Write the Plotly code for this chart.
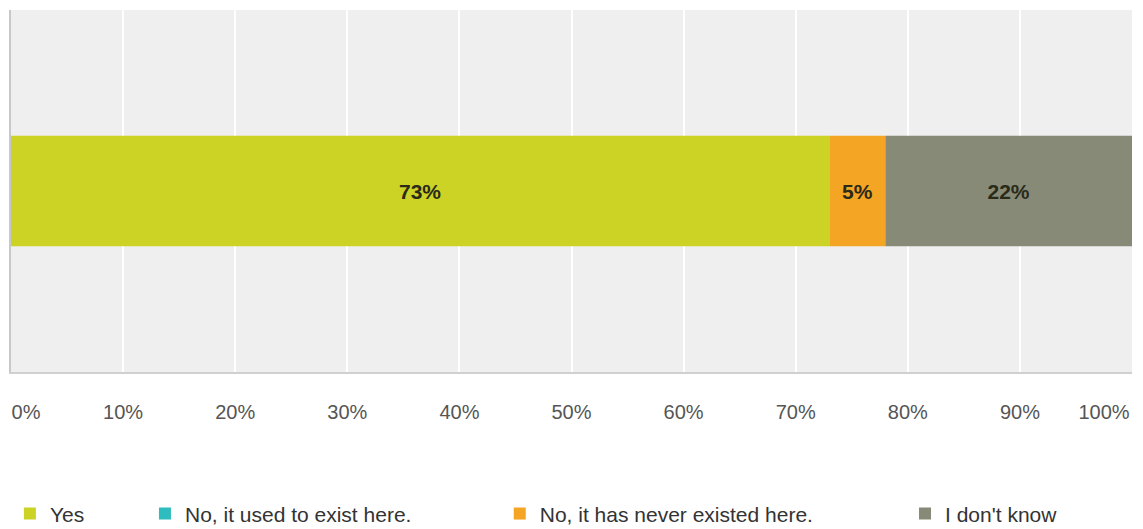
import plotly.graph_objects as go

categories = ["Q"]
series_names = ["Yes", "No, it used to exist here.", "No, it has never existed here.", "I don't know"]
series_values = [73, 0, 5, 22]
series_colors = ["#ccd325", "#2fbcbf", "#f5a524", "#878a77"]
tick_vals = [0, 10, 20, 30, 40, 50, 60, 70, 80, 90, 100]
tick_text = ["", "10%", "20%", "30%", "40%", "50%", "60%", "70%", "80%", "90%", ""]
first_tick = [0]
first_text = ["0%"]
last_tick = [100]
last_text = ["100%"]
legend_ids = ["legend", "legend2", "legend3", "legend4"]
legend_x = [-0.001, 0.1195, 0.436, 0.7975]
# x axis each series is drawn on (the extra axes only carry the end tick labels)
series_axes = ["x", "x2", "x", "x3"]

fig = go.Figure()
cum = 0
for name, val, col, lg, ax in zip(series_names, series_values, series_colors, legend_ids, series_axes):
    fig.add_trace(go.Bar(
        y=categories, x=[val], base=[cum], name=name, orientation="h",
        xaxis=ax, yaxis="y",
        marker=dict(color=col, line=dict(width=0)),
        text=[f"{val}%" if val > 0 else ""], textposition="inside",
        insidetextanchor="middle", constraintext="none",
        textfont=dict(family="Liberation Sans, Arial", size=21, color="#2a2a1a", weight="bold"),
        width=0.305,
        legend=lg,
    ))
    cum += val

legend_common = dict(orientation="h", xanchor="left", y=-0.392, yanchor="middle",
                     font=dict(family="Liberation Sans, Arial", size=21, color="#333"),
                     bgcolor="rgba(0,0,0,0)")
layout_legends = {lg: dict(x=lx, **legend_common) for lg, lx in zip(legend_ids, legend_x)}

tickfont = dict(family="Liberation Sans, Arial", size=20, color="#555")
edge_axis = dict(range=[0, 100], anchor="y", overlaying="x", side="bottom",
                 showgrid=False, zeroline=False, showline=False, ticks="",
                 ticklabelstandoff=26, tickfont=tickfont, fixedrange=True)

fig.update_layout(
    barmode="overlay",
    width=1143, height=529,
    margin=dict(l=11, r=11, t=10, b=157, autoexpand=False),
    paper_bgcolor="white",
    plot_bgcolor="#efefef",
    font=dict(family="Liberation Sans, Arial", size=15, color="#444"),
    xaxis=dict(range=[0, 100], tickvals=tick_vals, ticktext=tick_text,
               showgrid=True, gridcolor="white", gridwidth=2,
               zeroline=False, showline=True, linecolor="#d0d0d0", linewidth=2,
               ticks="", ticklabelstandoff=21, tickfont=tickfont, fixedrange=True),
    xaxis2=dict(tickvals=first_tick, ticktext=first_text, ticklabelshift=15, **edge_axis),
    xaxis3=dict(tickvals=last_tick, ticktext=last_text, ticklabelshift=-28, **edge_axis),
    yaxis=dict(range=[-0.5, 0.5], showticklabels=False, showgrid=False, zeroline=False,
               showline=True, linecolor="#c8c8c8", linewidth=2, fixedrange=True),
    showlegend=True,
    **layout_legends,
)

fig.write_html("out.html", post_script="document.body.style.margin='0px';",
               config={"displayModeBar": False})
